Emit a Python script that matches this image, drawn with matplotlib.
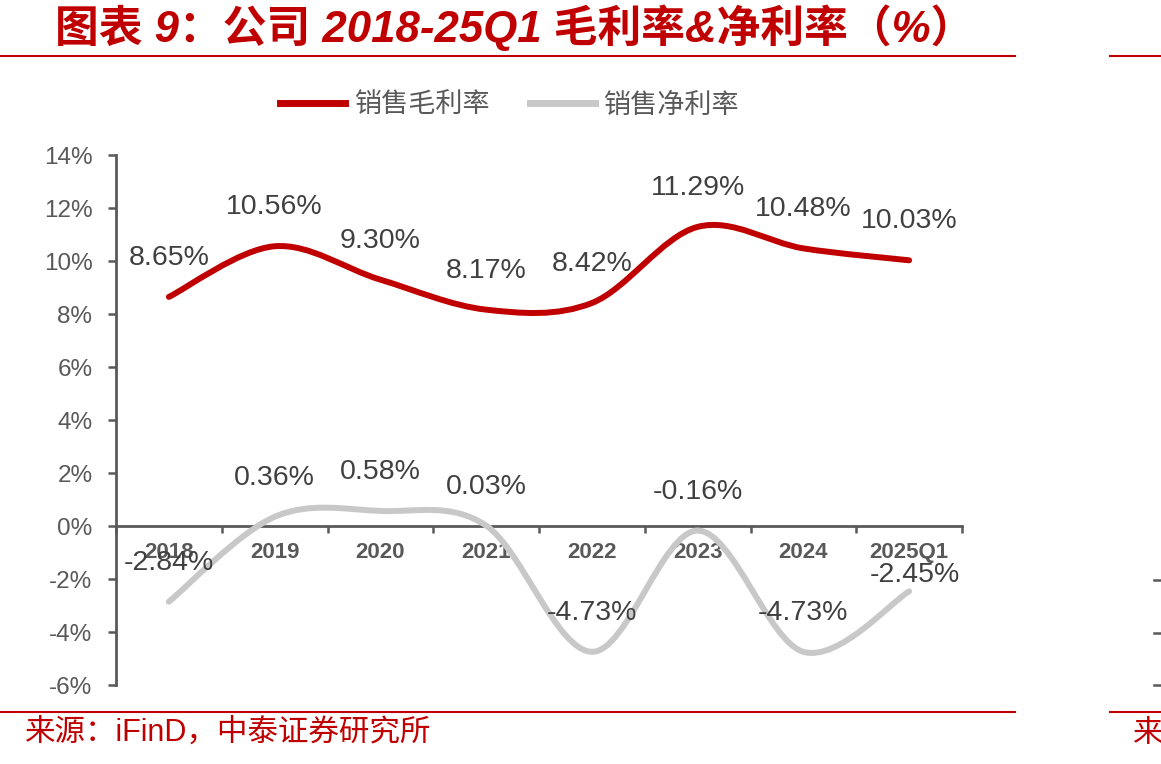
import matplotlib
matplotlib.use("Agg")
import matplotlib.pyplot as plt
from matplotlib.path import Path
from matplotlib.patches import PathPatch
from matplotlib.lines import Line2D

# ---- data ----
categories = ["2018", "2019", "2020", "2021", "2022", "2023", "2024", "2025Q1"]
gross_margin = [8.65, 10.56, 9.30, 8.17, 8.42, 11.29, 10.48, 10.03]
net_margin = [-2.84, 0.36, 0.58, 0.03, -4.73, -0.16, -4.73, -2.45]
series_names = ["销售毛利率", "销售净利率"]
yticks = [-6, -4, -2, 0, 2, 4, 6, 8, 10, 12, 14]

# ---- style ----
RED = "#C00000"
GRAY_LINE = "#C8C8C8"
TXT = "#595959"
LATIN = ["Liberation Sans", "Noto Sans CJK SC", "DejaVu Sans"]
CJK = ["Noto Sans CJK SC", "DejaVu Sans"]

W, H = 1161, 764
fig = plt.figure(figsize=(W / 100, H / 100), dpi=100)
ax = fig.add_axes([116 / W, 78.5 / H, 846 / W, 530.5 / H])


def smooth_path(xs, ys):
    n = len(xs)
    verts = [(xs[0], ys[0])]
    codes = [Path.MOVETO]
    for i in range(n - 1):
        a = i - 1 if i > 0 else i
        d = i + 2 if i + 2 < n else i + 1
        c1 = (xs[i] + (xs[i + 1] - xs[a]) / 6, ys[i] + (ys[i + 1] - ys[a]) / 6)
        c2 = (xs[i + 1] - (xs[d] - xs[i]) / 6, ys[i + 1] - (ys[d] - ys[i]) / 6)
        verts += [c1, c2, (xs[i + 1], ys[i + 1])]
        codes += [Path.CURVE4] * 3
    return Path(verts, codes)


x = list(range(len(categories)))
for vals, col in [(gross_margin, RED), (net_margin, GRAY_LINE)]:
    patch = PathPatch(smooth_path(x, vals), facecolor="none", edgecolor=col,
                      lw=4.3, capstyle="round", joinstyle="round",
                      transform=ax.transData, zorder=3)
    ax.add_patch(patch)

# data labels
for xi, v in zip(x, gross_margin):
    ax.annotate(f"{v:.2f}%", (xi, v), xytext=(0, 28), textcoords="offset points",
                ha="center", va="center", fontsize=20.5, color="#404040",
                family=LATIN, zorder=5)
net_offsets = [(0, 28)] * 7 + [(4, 11.5)]
for xi, v, off in zip(x, net_margin, net_offsets):
    ax.annotate(f"{v:.2f}%", (xi, v), xytext=off, textcoords="offset points",
                ha="center", va="center", fontsize=20.5, color="#404040",
                family=LATIN, zorder=5)

ax.set_xlim(-0.5, len(categories) - 0.5)
ax.set_ylim(-6, 14)

for s in ["top", "right"]:
    ax.spines[s].set_visible(False)
ax.spines["left"].set_color(TXT)
ax.spines["left"].set_linewidth(2)
ax.spines["bottom"].set_position(("data", 0))
ax.spines["bottom"].set_color(TXT)
ax.spines["bottom"].set_linewidth(2)

ax.set_yticks(yticks)
ax.set_yticklabels([f"{t}%" for t in yticks], family=LATIN)
ax.tick_params(axis="y", direction="out", length=6, width=1.8, color=TXT,
               labelsize=17.5, labelcolor=TXT, pad=11)

ax.set_xticks([i - 0.5 for i in range(len(categories) + 1)])
ax.set_xticklabels([])
ax.tick_params(axis="x", which="major", direction="out", length=5, width=1.8, color=TXT)
ax.set_xticks(x, minor=True)
ax.set_xticklabels(categories, minor=True, family=LATIN, fontweight="bold")
ax.tick_params(axis="x", which="minor", length=0, labelsize=16, labelcolor=TXT, pad=11)
ax.set_facecolor("none")

# legend
handles = [Line2D([], [], color=RED, lw=5),
           Line2D([], [], color=GRAY_LINE, lw=5)]
leg = fig.legend(handles, series_names, loc="center", bbox_to_anchor=(510 / W, 1 - 105 / H),
                 ncol=2, frameon=False, prop={"family": CJK, "size": 19.5},
                 handlelength=2.4, handletextpad=0.35, columnspacing=1.45)
for t in leg.get_texts():
    t.set_color(TXT)

# title
fig.text(55 / W, 1 - 28 / H, "图表 9：公司 2018-25Q1 毛利率&净利率（%）", color=RED,
         fontsize=31.5, fontweight="bold", fontstyle="italic", family=LATIN,
         ha="left", va="center")

# decorative rules
for yy in [56, 712]:
    fig.add_artist(Line2D([0, 1015 / W], [1 - yy / H] * 2, color=RED, lw=1.5))
    fig.add_artist(Line2D([1110 / W, 1], [1 - yy / H] * 2, color=RED, lw=1.5))
for yy in [580, 633, 685]:
    fig.add_artist(Line2D([1154 / W, 1], [1 - yy / H] * 2, color=TXT, lw=1.8))

# source
fig.text(25 / W, 1 - 733 / H, "来源：iFinD，中泰证券研究所", color=RED, fontsize=22,
         family=LATIN, ha="left", va="center")
fig.text(1133 / W, 1 - 733 / H, "来源", color=RED, fontsize=22,
         family=CJK, ha="left", va="center")

fig.savefig("out.png", dpi=100)
